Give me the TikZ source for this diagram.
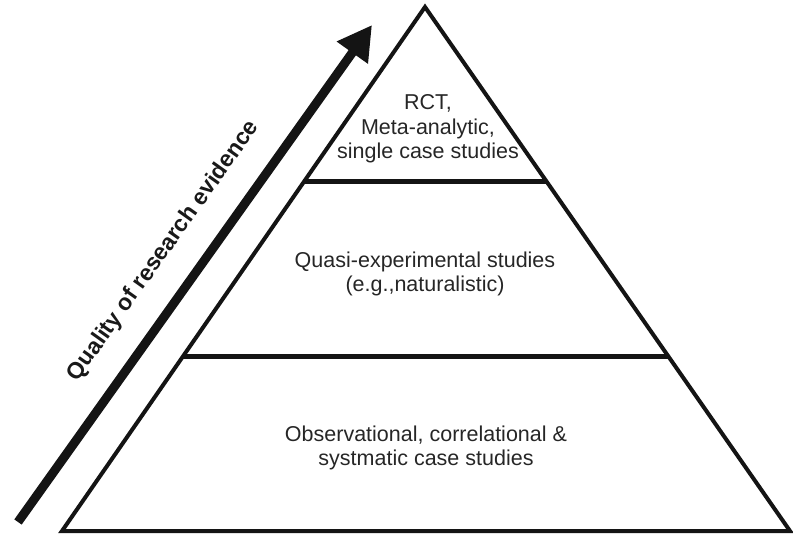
\documentclass[tikz,border=0pt]{standalone}
\usepackage{fontspec}
\setmainfont{Liberation Sans}
\usetikzlibrary{positioning, arrows.meta, calc}
\tikzset{%
	wall/.style = {line width = 4pt, line join = miter, draw = black!92},
	shelf/.style = {line width = 5pt, draw = black!92},
	tier/.style = {name = #1, align = center, font = \fontsize{21.5}{24.5}\selectfont, text = black!85},
	rise/.style = {line width = 9pt, draw = black!92, -{Triangle[length = 34pt, width = 36pt]}}
}

\begin{document}
\begin{tikzpicture}[x=1pt, y=1pt]
	\useasboundingbox (0,0) rectangle (793,536);
	\coordinate (apex) at (425,529);
	\coordinate (bl) at (62,5);
	\coordinate (br) at (790,5);
	\coordinate (l1) at ($(bl)!1/3!(apex)$);
	\coordinate (r1) at ($(br)!1/3!(apex)$);
	\coordinate (l2) at ($(bl)!2/3!(apex)$);
	\coordinate (r2) at ($(br)!2/3!(apex)$);
	\draw [wall] (bl) -- (apex) -- (br) -- cycle;
	\draw [shelf] (l1) -- (r1);
	\draw [shelf] (l2) -- (r2);
	\node [tier = {top}] at (428,407) {RCT,\\Meta-analytic,\\single case studies};
	\node [tier = {mid}] at (425,262) {Quasi-experimental studies\\(e.g.,naturalistic)};
	\node [tier = {low}] at (426,88) {Observational, correlational \&\\systmatic case studies};
	\coordinate (tail) at (18,14);
	\coordinate (tip) at (372,511);
	\draw [rise] (tail) -- (tip) node [midway, sloped, above = 20pt, font = \bfseries\fontsize{23}{23}\selectfont, text = black!90] (quality) {Quality of research evidence};
\end{tikzpicture}
\end{document}
